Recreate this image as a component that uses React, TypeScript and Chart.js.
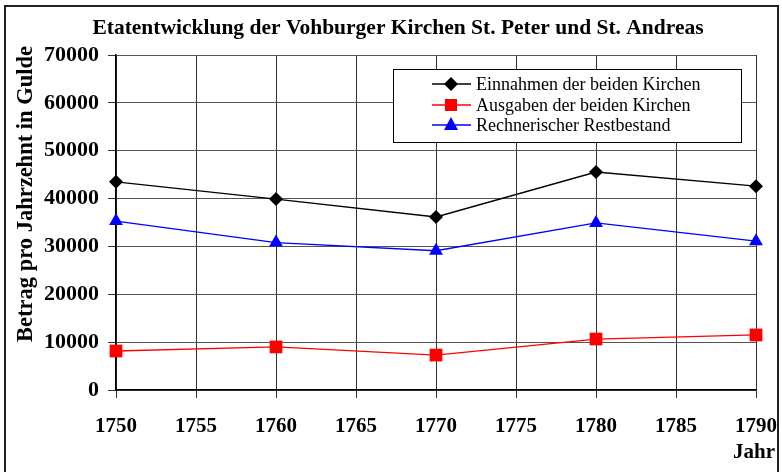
import React, { useEffect, useRef } from "react";
import { Chart, registerables } from "chart.js";

Chart.register(...registerables);

const years = [1750, 1760, 1770, 1780, 1790];
const einnahmen = [43500, 39900, 36150, 45550, 42600];
const ausgaben = [8150, 9000, 7300, 10650, 11500];
const restbestand = [35300, 30800, 29100, 34900, 31100];

const seriesNames = [
  "Einnahmen der beiden Kirchen",
  "Ausgaben der beiden Kirchen",
  "Rechnerischer Restbestand",
];
const seriesColors = ["#000000", "#ff0000", "#0000ff"];
const seriesMarkers = ["rectRot", "rect", "triangle"];
const seriesRadii = [7, 9, 8];

const chartTitle = "Etatentwicklung der Vohburger Kirchen St. Peter und St. Andreas";
const yTitle = "Betrag pro Jahrzehnt in Gulde";
const xTitle = "Jahr";

const SERIF = "'Liberation Serif', 'Times New Roman', serif";

const decorPlugin = {
  id: "decor",
  afterDraw(chart: any) {
    const ctx = chart.ctx;
    ctx.save();
    // outer frame
    ctx.strokeStyle = "#222";
    ctx.lineWidth = 2;
    ctx.strokeRect(5, 6, 773, 470);
    // title
    ctx.fillStyle = "#000";
    ctx.font = `bold 21.5px ${SERIF}`;
    ctx.textAlign = "center";
    ctx.textBaseline = "middle";
    ctx.fillText(chartTitle, 398, 28);
    // y title
    ctx.save();
    ctx.translate(26, 194);
    ctx.rotate(-Math.PI / 2);
    ctx.font = `bold 22.5px ${SERIF}`;
    ctx.fillText(yTitle, 0, 0);
    ctx.restore();
    // x title
    ctx.font = `bold 21px ${SERIF}`;
    ctx.fillText(xTitle, 754, 453);
    // legend
    const lx = 393.5, ly = 69.5, lw = 348, lh = 73;
    ctx.fillStyle = "#fff";
    ctx.fillRect(lx, ly, lw, lh);
    ctx.strokeStyle = "#000";
    ctx.lineWidth = 1;
    ctx.strokeRect(lx, ly, lw, lh);
    const rows = [84, 105, 125];
    for (let i = 0; i < 3; i++) {
      const y = rows[i];
      ctx.strokeStyle = seriesColors[i];
      ctx.lineWidth = 1.3;
      ctx.beginPath();
      ctx.moveTo(432, y);
      ctx.lineTo(471, y);
      ctx.stroke();
      ctx.fillStyle = seriesColors[i];
      ctx.beginPath();
      if (i === 0) {
        ctx.moveTo(451, y - 7);
        ctx.lineTo(458, y);
        ctx.lineTo(451, y + 7);
        ctx.lineTo(444, y);
      } else if (i === 1) {
        ctx.rect(445, y - 6, 12, 12);
      } else {
        ctx.moveTo(451, y - 8);
        ctx.lineTo(458, y + 5);
        ctx.lineTo(444, y + 5);
      }
      ctx.closePath();
      ctx.fill();
      ctx.fillStyle = "#000";
      ctx.font = `18px ${SERIF}`;
      ctx.textAlign = "left";
      ctx.textBaseline = "middle";
      ctx.fillText(seriesNames[i], 476, y + 1);
    }
    ctx.restore();
  },
};

export default function App() {
  const ref = useRef<HTMLCanvasElement | null>(null);
  useEffect(() => {
    document.body.style.margin = "0";
    const values = [einnahmen, ausgaben, restbestand];
    const chart = new Chart(ref.current as HTMLCanvasElement, {
      type: "line",
      data: {
        datasets: values.map((vals, i) => ({
          label: seriesNames[i],
          data: years.map((yr, j) => ({ x: yr, y: vals[j] })),
          borderColor: seriesColors[i],
          backgroundColor: seriesColors[i],
          borderWidth: 1.3,
          pointStyle: seriesMarkers[i] as any,
          pointRadius: seriesRadii[i],
          pointBorderWidth: 0,
          tension: 0,
          clip: false,
        })),
      },
      options: {
        animation: false,
        responsive: false,
        layout: { padding: { top: 55, left: 0, right: 26, bottom: 0 } },
        plugins: { legend: { display: false }, title: { display: false }, tooltip: { enabled: false } },
        scales: {
          x: {
            type: "linear",
            min: 1750,
            max: 1790,
            ticks: {
              stepSize: 5,
              color: "#000",
              padding: 16,
              font: { family: SERIF, size: 21, weight: "bold" },
              callback: (v: any) => String(v),
            },
            grid: { color: "#333", lineWidth: 1, tickLength: 8, tickColor: "#333" },
            border: { color: "#000", width: 1.5 },
            afterFit: (s: any) => {
              s.height = 82;
              s.paddingLeft = 0;
              s.paddingRight = 0;
            },
          },
          y: {
            min: 0,
            max: 70000,
            ticks: {
              stepSize: 10000,
              color: "#000",
              padding: 9,
              font: { family: SERIF, size: 22, weight: "bold" },
              callback: (v: any) => String(v),
            },
            grid: { color: "#555", lineWidth: 1, tickLength: 8, tickColor: "#333" },
            border: { color: "#000", width: 1.5 },
            afterFit: (s: any) => {
              s.width = 116;
              s.paddingTop = 0;
              s.paddingBottom = 0;
            },
          },
        },
      } as any,
      plugins: [decorPlugin],
    });
    return () => chart.destroy();
  }, []);
  return (
    <div style={{ position: "fixed", left: 0, top: 0, width: 782, height: 472, background: "#fff" }}>
      <canvas ref={ref} width={782} height={472} />
    </div>
  );
}
